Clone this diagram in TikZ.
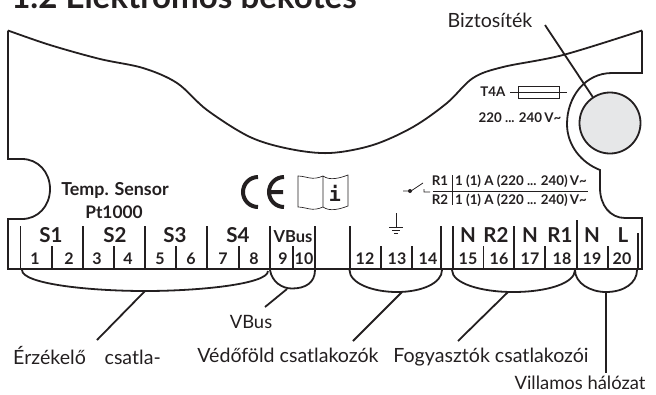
\documentclass[tikz,border=0pt]{standalone}
\usepackage{fontspec}
\setmainfont{Lato}
\newfontfamily\infofont{DejaVu Sans Mono}
\usepackage{tikz}
\definecolor{knobgray}{HTML}{E6E7E8}
\definecolor{inkblack}{HTML}{231F20}

\begin{document}
\begin{tikzpicture}[x=0.75pt,y=-0.75pt,line cap=butt,
		every node/.style = {inner sep=0pt, text=inkblack},
		outline/.style = {draw=inkblack, line width=1.35pt},
		tick/.style = {draw=inkblack, line width=1.1pt},
		brace/.style = {draw=inkblack, line width=1.35pt},
		leader/.style = {draw=inkblack, line width=1.35pt},
		callout/.style = {font=\fontsize{14.7}{15}\selectfont},
		sensorpin/.style = {font=\bfseries\fontsize{12}{12}\selectfont},
		channel/.style = {font=\bfseries\fontsize{15.4}{15}\selectfont},
		rating/.style = {font=\bfseries\fontsize{10}{11}\selectfont}]
	\useasboundingbox (0,0) rectangle (656,394);
	% title
	\node[anchor=base west, font=\bfseries\fontsize{24.8}{26}\selectfont] (title) at (11,8) {1.2 Elektromos bekötés};
	% housing
	\draw[outline] (8,30.5) -- (8,159) -- (22,159) .. controls (38,159) and (50,172) .. (50,189) .. controls (50,206) and (38,219) .. (22,219) -- (8,219) -- (8,269) -- (642,269) -- (642,218) -- (625,218) .. controls (610,218) and (600,205) .. (600,188) -- (600,170) .. controls (582,163) and (567,146) .. (567,124) .. controls (567,97) and (585,73) .. (612,73) -- (642,73) -- (642,30.5);
	\draw[outline] plot[smooth, tension=0.55] coordinates {(8,30.5) (50,45) (100,59) (143,68) (177,83) (207,110) (250,137) (290,149) (330,153) (373,145) (413,127) (447,103) (473,78) (503,67) (563,55) (642,30.5)};
	\node[circle, outline, fill=knobgray, minimum size=61pt*0.75] (knob) at (610,123) {};
	% terminal strip
	\draw[tick] (20.5,226) -- (20.5,269) (83,226) -- (83,269) (145,226) -- (145,269) (207,226) -- (207,269) (270,226) -- (270,269) (315,226) -- (315,269);
	\draw[tick] (52,246) -- (52,269) (114,246) -- (114,269) (176,246) -- (176,269) (239,246) -- (239,269) (293,246) -- (293,269);
	\draw[tick] (350,226) -- (350,269) (441,226) -- (441,269) (453,226) -- (453,269) (514,226) -- (514,269) (577,220) -- (577,269) (638,233) -- (638,269);
	\draw[tick] (381,246) -- (381,269) (412,246) -- (412,269) (483.5,246) -- (483.5,269) (545,246) -- (545,269) (608,246) -- (608,269);
	% channels
	\begin{scope}[every node/.append style={channel}]
		\node (S1) at (51,235) {S1};
		\node (S2) at (115,235) {S2};
		\node (S3) at (175,235) {S3};
		\node (S4) at (238,235) {S4};
		\node (N1) at (468,235) {N};
		\node (R2) at (496,235) {R2};
		\node (N2) at (530,235) {N};
		\node (R1) at (560,235) {R1};
		\node (N3) at (592,235) {N};
		\node (L) at (623,235) {L};
	\end{scope}
	\node[font=\bfseries\fontsize{12.4}{13}\selectfont] (VB) at (293,236.5) {VBus};
	% pin numbers
	\begin{scope}[every node/.append style={sensorpin}]
		\node (P1) at (35,259) {1};
		\node (P2) at (69,259) {2};
		\node (P3) at (97,259) {3};
		\node (P4) at (128,259) {4};
		\node (P5) at (160,259) {5};
		\node (P6) at (191,259) {6};
		\node (P7) at (223,259) {7};
		\node (P8) at (254,259) {8};
		\node (P9) at (283,259) {9};
		\node (P10) at (304,259) {10};
		\node (P12) at (365,259) {12};
		\node (P13) at (397,259) {13};
		\node (P14) at (428,259) {14};
		\node (P15) at (468,259) {15};
		\node (P16) at (499,259) {16};
		\node (P17) at (530,259) {17};
		\node (P18) at (562,259) {18};
		\node (P19) at (592,259) {19};
		\node (P20) at (622,259) {20};
	\end{scope}
	% imprint
	\node[font=\bfseries\fontsize{13.4}{14}\selectfont] (temp) at (115,190) {Temp. Sensor};
	\node[font=\bfseries\fontsize{13}{14}\selectfont] (pt) at (114,212) {Pt1000};
	\draw[inkblack, line width=3pt] (258,177) arc (270:90:15) (284,177) arc (270:90:15) (270,192) -- (283,192);
	\draw[inkblack, line width=0.5pt] (298,176) .. controls (306,176) and (312,181) .. (323,176) -- (323,207) .. controls (312,212) and (306,207) .. (298,207) -- cycle (323,176) .. controls (330,181) and (340,178) .. (348,175) -- (348,206) .. controls (340,209) and (330,212) .. (323,207);
	\node[font=\infofont\bfseries\fontsize{15}{15}\selectfont] (info) at (335,193) {i};
	% fuse
	\node[rating, anchor=base west] (fuse) at (480,96) {T4A};
	\node[rating] (volt) at (520,118) {220 ... 240\,V\textasciitilde};
	\draw[inkblack, line width=0.6pt] (518,86) rectangle (559,98);
	\draw[inkblack, line width=0.6pt] (510,92) -- (567,92);
	% relay
	\node[rating] (rone) at (440,181) {R1};
	\node[rating] (rtwo) at (440,200) {R2};
	\node[rating] (aone) at (521,181) {1 (1) A (220 ... 240)\,V\textasciitilde};
	\node[rating] (atwo) at (521,200) {1 (1) A (220 ... 240)\,V\textasciitilde};
	\draw[inkblack, line width=0.6pt] (433,191) -- (588,191) (452,175) -- (452,205);
	\draw[inkblack, line width=0.6pt] (403,191) -- (411,191) -- (423,183) (424,189) -- (424,192) -- (430,192);
	\fill[inkblack] (410,191) circle (2);
	% ground
	\draw[inkblack, line width=0.6pt] (396,213) -- (396,227) (389,227) -- (403,227) (392,230) -- (400,230) (394,233) -- (398,233);
	% brackets
	\coordinate (b1) at (145,291);
	\coordinate (b2) at (287,289);
	\coordinate (b3) at (402,292);
	\coordinate (b4) at (508,292);
	\coordinate (b5) at (606,292);
	\draw[brace] (22,270) .. controls (22,284) and (90,291) .. (145,291) .. controls (200,291) and (268,284) .. (268,271);
	\draw[brace] (270,270) .. controls (272,282) and (282,288.5) .. (292,288.5) .. controls (305,288.5) and (315,283) .. (315,270);
	\draw[brace] (349.5,270) .. controls (349.5,283) and (372,292) .. (397,292) .. controls (422,292) and (442,283) .. (442,270);
	\draw[brace] (452,270) .. controls (452,283) and (480,292) .. (513,292) .. controls (548,292) and (575,283) .. (575,270);
	\draw[brace] (575,270) .. controls (575,283) and (590,292) .. (606,292) .. controls (624,292) and (637,283) .. (637,270);
	% labels
	\node[callout] (tip) at (490,20) {Biztosíték};
	\node[callout] (sens) at (87,355) {Érzékelő\hspace{0.7em} csatla-};
	\node[callout, font=\fontsize{13.8}{15}\selectfont] (vbus) at (251,322) {VBus};
	\node[callout] (pe) at (288,355) {Védőföld csatlakozók};
	\node[callout] (load) at (491,357) {Fogyasztók csatlakozói};
	\node[callout, font=\fontsize{13.8}{15}\selectfont] (mains) at (580,383) {Villamos hálózat};
	\coordinate (e0) at (545,25);
	\coordinate (e1) at (97,340);
	\coordinate (e2) at (265,307);
	\coordinate (e3) at (353,341);
	\coordinate (e4) at (458,341);
	\coordinate (e5) at (606,373);
	\draw[leader] (e0) -- (knob);
	\draw[leader] (b1) -- (e1);
	\draw[leader] (b2) -- (e2);
	\draw[leader] (b3) -- (e3);
	\draw[leader] (b4) -- (e4);
	\draw[leader] (b5) -- (e5);
\end{tikzpicture}
\end{document}
